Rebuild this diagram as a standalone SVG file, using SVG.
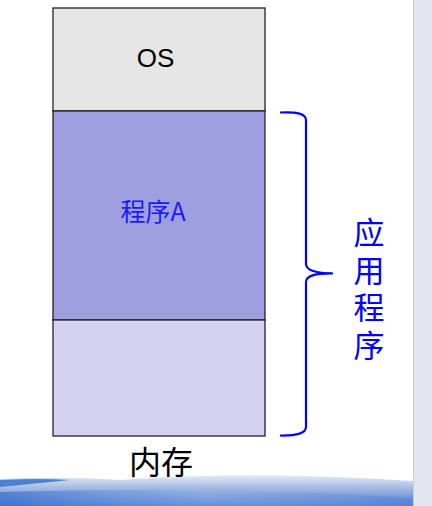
<svg xmlns="http://www.w3.org/2000/svg" width="432" height="506" viewBox="0 0 432 506">
<defs>
<style>
.box{stroke:#222;stroke-width:1.3}
.cjk{font-family:"Noto Sans CJK SC","Noto Sans",sans-serif}
</style>
<linearGradient id="sw" x1="0" y1="0" x2="0" y2="1">
<stop offset="0" stop-color="#e3ebf5"/>
<stop offset="0.35" stop-color="#adc3e6"/>
<stop offset="1" stop-color="#4a78cf"/>
</linearGradient>
<linearGradient id="sw2" x1="0" y1="0" x2="1" y2="0">
<stop offset="0" stop-color="#3d6fd0"/>
<stop offset="0.5" stop-color="#8fb0e6" stop-opacity="0.6"/>
<stop offset="1" stop-color="#5b86d6"/>
</linearGradient>
</defs>
<rect x="0" y="0" width="432" height="506" fill="#fff"/>
<rect x="413" y="0" width="19" height="506" fill="#e3e6ef"/>
<line x1="413.5" y1="0" x2="413.5" y2="506" stroke="#c9ccd6" stroke-width="1"/>
<g id="swoosh">
<path d="M0,479 Q60,476 120,480 Q250,470 413,481 L413,506 L0,506 Z" fill="url(#sw)"/>
<path d="M0,480 Q40,478 70,480 Q30,484 0,487 Z" fill="#4f7fd4"/>
<path d="M0,492 Q200,486 413,498 L413,506 L0,506 Z" fill="url(#sw2)" opacity="0.7"/>
</g>
<g id="os">
<rect class="box" x="53" y="8" width="212" height="103" fill="#e6e6e6"/>
<text x="155.5" y="67" font-family="Liberation Sans, Arial, sans-serif" font-size="26" text-anchor="middle" fill="#000">OS</text>
</g>
<g id="progA">
<rect class="box" x="53" y="111" width="212" height="209" fill="#9f9fdf"/>
<text x="153" y="221" class="cjk" font-size="25" text-anchor="middle" fill="#1a1aff">程序A</text>
</g>
<g id="free">
<rect class="box" x="53" y="320" width="212" height="116" fill="#d3d3f1"/>
</g>
<g id="connectors">
<path d="M280,112.5 Q306,111 306,120 L306,264 Q306,273 333,273.5 M333,273.5 Q306,273 306,282 L306,427 Q306,436 280,435.5" fill="none" stroke="#0000ff" stroke-width="2.2"/>
</g>
<g id="label-app">
<text x="369" y="217" class="cjk" font-size="31" fill="#0000ff" writing-mode="vertical-rl" letter-spacing="6.5">应用程序</text>
</g>
<g id="label-mem">
<text x="161" y="474" class="cjk" font-size="32" text-anchor="middle" fill="#000">内存</text>
</g>
</svg>
